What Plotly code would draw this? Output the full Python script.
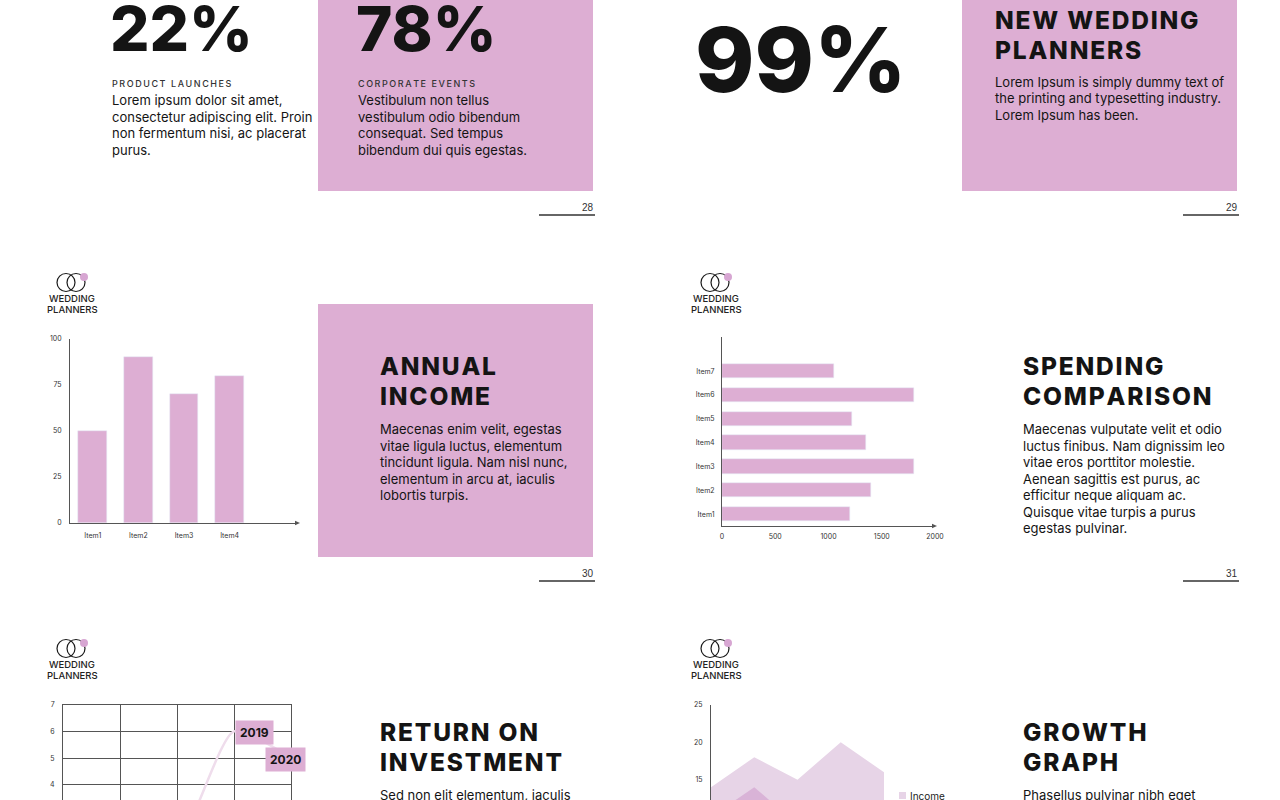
import plotly.graph_objects as go

W, H = 1280, 800
PINK = "#DDAED3"
DOT = "#D7A6D2"
AXIS = "#555555"
TXT = "#141414"
FONT = "Inter"

# ---------------- data ----------------
stat_values = ["22%", "78%", "99%"]
stat_labels = ["PRODUCT LAUNCHES", "CORPORATE EVENTS"]

bar_items = ["Item1", "Item2", "Item3", "Item4"]
bar_values = [50, 90, 70, 80]
bar_ticks = [0, 25, 50, 75, 100]

hbar_items = ["Item1", "Item2", "Item3", "Item4", "Item5", "Item6", "Item7"]
hbar_values = [1200, 1400, 1800, 1350, 1220, 1800, 1050]
hbar_ticks = [0, 500, 1000, 1500, 2000]

roi_years = ["2016", "2017", "2018", "2019", "2020"]
roi_values = [1.0, 1.4, 1.8, 6.0, 5.0]
roi_ticks = [4, 5, 6, 7]

growth_periods = ["P1", "P2", "P3", "P4", "P5"]
growth_income = [14, 18, 15, 20, 16]
growth_expenses = [10, 14, 9, 12, 8]
growth_ticks = [15, 20, 25]


def px(x):
    return x / W


def py(y):
    return 1 - y / H


def spaced(s, sep="\u200a"):
    return sep.join(list(s))


fig = go.Figure()

# ---------------- traces ----------------
fig.add_trace(go.Bar(x=bar_items, y=bar_values, marker_color=PINK, width=0.63,
                     xaxis="x", yaxis="y", showlegend=False, hoverinfo="skip"))
fig.add_trace(go.Bar(x=hbar_values, y=hbar_items, orientation="h", marker_color=PINK,
                     width=0.6, xaxis="x2", yaxis="y2", showlegend=False, hoverinfo="skip"))
fig.add_trace(go.Scatter(x=roi_years, y=roi_values, mode="lines",
                         line=dict(color="#EFDDEC", width=2.5, shape="spline", smoothing=0.6),
                         xaxis="x3", yaxis="y3", showlegend=False, hoverinfo="skip",
                         cliponaxis=True))
fig.add_trace(go.Scatter(x=growth_periods, y=growth_income, mode="lines", fill="tozeroy",
                         fillcolor="#E7D4E7", line=dict(width=0, color="#E7D4E7"),
                         xaxis="x4", yaxis="y4", name="Income", showlegend=False, hoverinfo="skip"))
fig.add_trace(go.Scatter(x=growth_periods, y=growth_expenses, mode="lines", fill="tozeroy",
                         fillcolor="#D9B3D7", line=dict(width=0, color="#D9B3D7"),
                         xaxis="x4", yaxis="y4", name="Expenses", showlegend=False, hoverinfo="skip"))

tickfont = dict(family=FONT, size=7, color="#333333")
axbase = dict(showline=True, linecolor=AXIS, linewidth=1, showgrid=False, zeroline=False,
              ticks="", tickfont=tickfont, fixedrange=True, automargin=False)

fig.update_layout(
    width=W, height=H, margin=dict(l=0, r=0, t=0, b=0, autoexpand=False),
    paper_bgcolor="white", plot_bgcolor="rgba(0,0,0,0)",
    font=dict(family=FONT, color=TXT),
    bargap=0,
    # slide 30 bar chart
    xaxis=dict(axbase, domain=[px(70), px(298)], anchor="y", range=[-0.5, 4.5],
               ticklabelstandoff=6),
    yaxis=dict(axbase, domain=[py(523), py(339)], anchor="x", range=[0, 100],
               tickvals=bar_ticks, ticklabelstandoff=6),
    # slide 31 horizontal bars
    xaxis2=dict(axbase, domain=[px(722), px(935)], anchor="y2", range=[0, 2000],
                tickvals=hbar_ticks, ticklabelstandoff=4),
    yaxis2=dict(axbase, domain=[py(526), py(337)], anchor="x2", range=[-0.5, 7.43],
                ticklabelstandoff=5),
    # slide 32 line chart
    xaxis3=dict(type="category", domain=[px(63), px(291)], anchor="y3", range=[0, 4], side="top",
                showline=True, linecolor=AXIS, linewidth=1, showgrid=True, gridcolor=AXIS,
                gridwidth=1, showticklabels=False, ticks="", zeroline=False, fixedrange=True,
                automargin=False),
    yaxis3=dict(domain=[0, py(704.5)], anchor="x3", range=[3.44, 7], tickvals=roi_ticks,
                showline=True, mirror=True, linecolor=AXIS, linewidth=1, showgrid=True,
                gridcolor=AXIS, gridwidth=1, zeroline=False, ticks="", tickfont=tickfont,
                ticklabelstandoff=6, fixedrange=True, automargin=False),
    # slide 33 area chart
    xaxis4=dict(type="category", domain=[px(711), px(884)], anchor="y4", range=[0, 4],
                showline=False, showgrid=False, zeroline=False, showticklabels=False,
                fixedrange=True, automargin=False),
    yaxis4=dict(axbase, domain=[0, py(705)], anchor="x4", range=[12.28, 25],
                tickvals=growth_ticks, ticklabelstandoff=6),
)

shapes = []
ann = []


def rect(x0, y0, x1, y1, color):
    shapes.append(dict(type="rect", xref="paper", yref="paper", x0=px(x0), x1=px(x1),
                       y0=py(y1), y1=py(y0), fillcolor=color, line=dict(width=0), layer="below"))


def hline(x0, x1, y, color="#333333", w=1.5):
    shapes.append(dict(type="line", xref="paper", yref="paper", x0=px(x0), x1=px(x1),
                       y0=py(y), y1=py(y), line=dict(color=color, width=w)))


def text(x, y, s, size, weight=400, color=TXT, anchor="left", family=FONT):
    ann.append(dict(xref="paper", yref="paper", x=px(x), y=py(y), text=s, showarrow=False,
                    xanchor=anchor, yanchor="middle", borderpad=0,
                    font=dict(family=family, size=size, color=color, weight=weight)))


def lines(x, y0, step, arr, size=13, weight=400):
    for i, s in enumerate(arr):
        text(x, y0 + i * step, s, size, weight)


def arrow(x, y):
    shapes.append(dict(type="path", xref="paper", yref="paper",
                       path=f"M {px(x)} {py(y)} L {px(x-5)} {py(y-2.2)} L {px(x-5)} {py(y+2.2)} Z",
                       fillcolor=AXIS, line=dict(width=0)))


def circle(cx, cy, r, fill=None, color="#1a1a1a", w=1.2):
    shapes.append(dict(type="circle", xref="paper", yref="paper", x0=px(cx - r), x1=px(cx + r),
                       y0=py(cy + r), y1=py(cy - r),
                       fillcolor=fill if fill else "rgba(0,0,0,0)",
                       line=dict(color=color, width=0 if fill else w)))


def logo(x0, yc):
    circle(x0 + 9, yc, 9)
    circle(x0 + 19, yc, 9)
    circle(x0 + 27, yc - 5.5, 4, fill=DOT)
    text(x0 + 15, yc + 15.5, "WEDDING", 9.5, 500, "#222222", anchor="center")
    text(x0 + 15, yc + 27, "PLANNERS", 9.5, 500, "#222222", anchor="center")


def heading(x, y, words):
    for i, wd in enumerate(words):
        text(x, y + i * 30, spaced(wd), 24.5, 800)


def page(xr, y, num):
    text(xr, y, num, 10, 400, "#333333", anchor="right", family="Liberation Sans")
    hline(xr - 56, xr, y + 8)


# ---------------- slide 28 ----------------
rect(318, 0, 593, 191, PINK)
text(109, 28, stat_values[0], 62, 800)
text(355, 28, stat_values[1], 62, 800)
text(111, 84, spaced(stat_labels[0], "\u2009"), 9, 500, "#333333")
text(357, 84, spaced(stat_labels[1], "\u2009"), 9, 500, "#333333")
lines(111, 100, 16.6, ["Lorem ipsum dolor sit amet,", "consectetur adipiscing elit. Proin",
                       "non fermentum nisi, ac placerat", "purus."])
lines(357, 100, 16.6, ["Vestibulum non tellus", "vestibulum odio bibendum",
                       "consequat. Sed tempus", "bibendum dui quis egestas."])
page(595, 207, "28")

# ---------------- slide 29 ----------------
rect(962, 0, 1237, 191, PINK)
text(694, 60, stat_values[2], 90, 800)
heading(994, 19.5, ["NEW WEDDING", "PLANNERS"])
lines(994, 82, 16.3, ["Lorem Ipsum is simply dummy text of", "the printing and typesetting industry.",
                      "Lorem Ipsum has been."])
page(1239, 207, "29")

# ---------------- slide 30 ----------------
logo(57, 282.5)
rect(318, 304, 593, 557, PINK)
heading(379, 366, ["ANNUAL", "INCOME"])
lines(379, 429, 16.5, ["Maecenas enim velit, egestas", "vitae ligula luctus, elementum",
                       "tincidunt ligula. Nam nisl nunc,", "elementum in arcu at, iaculis",
                       "lobortis turpis."])
page(595, 573, "30")
arrow(300, 523)

# ---------------- slide 31 ----------------
logo(701, 282.5)
heading(1022, 366, ["SPENDING", "COMPARISON"])
lines(1022, 429, 16.5, ["Maecenas vulputate velit et odio", "luctus finibus. Nam dignissim leo",
                        "vitae eros porttitor molestie.", "Aenean sagittis est purus, ac",
                        "efficitur neque aliquam ac.", "Quisque vitae turpis a purus",
                        "egestas pulvinar."])
page(1239, 573, "31")
arrow(937, 526)

# ---------------- slide 32 ----------------
logo(57, 648.5)
heading(379, 732, ["RETURN ON", "INVESTMENT"])
lines(379, 795, 16.5, ["Sed non elit elementum, iaculis"])
label_shift = [20, 20, 20, 20, -6]
for i, (yr, v) in enumerate(zip(roi_years, roi_values)):
    ann.append(dict(xref="x3", yref="y3", x=i, y=v, text=f"<b>{yr}</b>", showarrow=False,
                    xanchor="center", yanchor="middle", xshift=label_shift[i], yshift=-1,
                    bgcolor=PINK, borderpad=4,
                    font=dict(family=FONT, size=12, color=TXT, weight=800)))

# ---------------- slide 33 ----------------
logo(701, 648.5)
heading(1022, 732, ["GROWTH", "GRAPH"])
lines(1022, 795, 16.5, ["Phasellus pulvinar nibh eget"])
rect(899, 792, 906, 799, "#E7D4E7")
text(909, 795.5, "Income", 10, 400, "#222222")

fig.update_layout(shapes=shapes, annotations=ann)
fig.write_html(
    "out.html",
    config={"displayModeBar": False},
    post_script=(
        "document.documentElement.style.margin='0';document.documentElement.style.overflow='hidden';"
        "document.body.style.margin='0';document.body.style.padding='0';"
        "document.body.style.overflow='hidden';"
        "var gd=document.getElementById('{plot_id}');"
        "gd.style.position='fixed';gd.style.left='0px';gd.style.top='0px';"
    ),
)
